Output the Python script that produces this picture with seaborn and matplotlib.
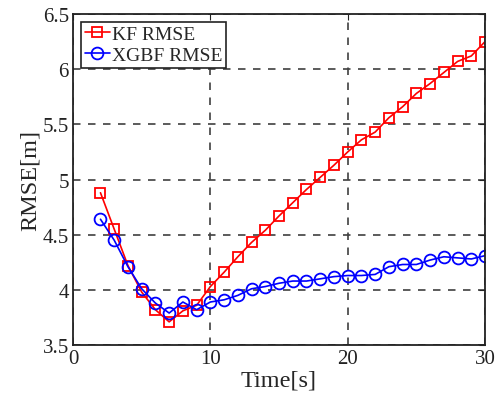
import matplotlib
matplotlib.use("Agg")
import matplotlib.pyplot as plt
import seaborn as sns
import pandas as pd

# time steps [s]
time_s = list(range(2, 31))

# RMSE of the Kalman filter [m]
kf_rmse = [4.88, 4.55, 4.22, 3.98, 3.82, 3.71, 3.81, 3.86, 4.03, 4.16,
           4.30, 4.43, 4.54, 4.67, 4.79, 4.91, 5.02, 5.13, 5.25, 5.36,
           5.43, 5.56, 5.66, 5.78, 5.87, 5.97, 6.07, 6.12, 6.25]

# RMSE of the XGBoost filter [m]
xgbf_rmse = [4.64, 4.45, 4.21, 4.01, 3.88, 3.79, 3.89, 3.82, 3.89, 3.91,
             3.95, 4.01, 4.03, 4.06, 4.08, 4.08, 4.10, 4.12, 4.13, 4.13,
             4.14, 4.21, 4.23, 4.23, 4.27, 4.30, 4.29, 4.28, 4.31]

series_names = ["KF RMSE", "XGBF RMSE"]

df = pd.DataFrame({
    "Time": time_s * 2,
    "RMSE": kf_rmse + xgbf_rmse,
    "Method": [series_names[0]] * len(time_s) + [series_names[1]] * len(time_s),
})

sns.set_style("white")
plt.rcParams["font.family"] = ["Liberation Serif", "DejaVu Serif"]

fig = plt.figure(figsize=(4.98, 4.10), dpi=100)
ax = fig.add_axes([0.1466, 0.156, 0.8274, 0.8074])

sns.lineplot(data=df, x="Time", y="RMSE", hue="Method", style="Method",
             palette=["red", "blue"], markers=["s", "o"], dashes=False,
             markersize=6.5, markeredgewidth=1.3, linewidth=1.2, ax=ax)
# hollow markers with coloured edges
for line, c in zip(ax.get_lines(), ["red", "blue"]):
    line.set_markerfacecolor("none")
    line.set_markeredgecolor(c)
ax.get_lines()[1].set_markersize(8.5)

ax.set_xlim(0, 30)
ax.set_ylim(3.5, 6.5)
ax.set_xticks([0, 10, 20, 30])
ax.set_yticks([3.5, 4, 4.5, 5, 5.5, 6, 6.5])
ax.set_yticklabels(["3.5", "4", "4.5", "5", "5.5", "6", "6.5"])
ax.grid(True, linestyle=(0, (4.5, 4.5)), color="#404040", linewidth=1.2)
ax.tick_params(direction="in", length=4, labelsize=15, colors="#222222",
               top=True, right=True, pad=3)
for s in ax.spines.values():
    s.set_color("#222222")
    s.set_linewidth(1.3)

ax.set_xlabel("Time[s]", fontsize=17.5, labelpad=1)
ax.set_ylabel("RMSE[m]", fontsize=17.5, labelpad=1)

handles, labels = ax.get_legend_handles_labels()
for h, c, ms in zip(handles, ["red", "blue"], [6.5, 8.5]):
    h.set_markerfacecolor("none")
    h.set_markeredgecolor(c)
    h.set_markersize(ms)
leg = ax.legend(handles, labels, loc="upper left", fontsize=14,
                frameon=True, fancybox=False, edgecolor="#222222",
                framealpha=1, handlelength=1.3, handletextpad=0.1,
                borderpad=0.2, labelspacing=0.15, borderaxespad=0.4)
leg.get_frame().set_linewidth(1.2)

fig.savefig("out.png", dpi=100)
